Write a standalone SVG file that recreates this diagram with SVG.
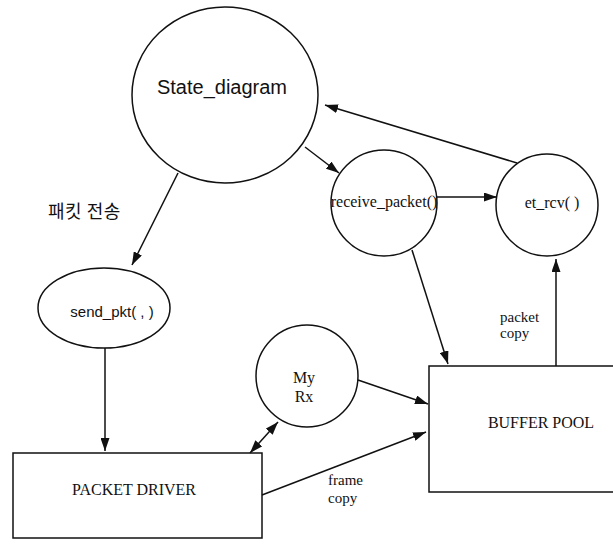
<svg xmlns="http://www.w3.org/2000/svg" width="613" height="550" viewBox="0 0 613 550">
<style>
.shape{fill:none;stroke:#111;stroke-width:1.5}
.edge{fill:none;stroke:#111;stroke-width:1.5}
.sans{font-family:"Liberation Sans",Arial,sans-serif;fill:#111}
.serif{font-family:"Liberation Serif","Times New Roman",serif;fill:#111;font-size:16px}
.small{font-size:15px}
.kr{font-family:"Noto Sans CJK KR","Noto Sans",sans-serif;fill:#111;font-size:18px;letter-spacing:0.5px}
</style>
<defs>
<marker id="ah" markerUnits="userSpaceOnUse" markerWidth="13" markerHeight="9" refX="13" refY="4.5" orient="auto-start-reverse">
<path d="M0,0 L13,4.5 L0,9 z" fill="#111"/>
</marker>
</defs>
<rect width="613" height="550" fill="#fff"/>
<g id="state_diagram">
<ellipse class="shape" cx="225" cy="95" rx="93" ry="88"/>
<text class="sans" x="222" y="94" font-size="20" text-anchor="middle">State_diagram</text>
</g>
<g id="receive_packet">
<circle class="shape" cx="384" cy="203" r="53"/>
<text class="serif" x="384" y="207" text-anchor="middle">receive_packet()</text>
</g>
<g id="et_rcv">
<circle class="shape" cx="547" cy="205" r="51"/>
<text class="serif" x="552" y="208" text-anchor="middle">et_rcv( )</text>
</g>
<g id="send_pkt">
<ellipse class="shape" cx="104" cy="308" rx="66" ry="40"/>
<text class="sans" x="112" y="317" font-size="15" text-anchor="middle">send_pkt( , )</text>
</g>
<g id="my_rx">
<circle class="shape" cx="307" cy="376" r="51"/>
<text class="serif" x="304" y="383" text-anchor="middle">My</text>
<text class="serif" x="304" y="402" text-anchor="middle">Rx</text>
</g>
<g id="packet_driver">
<rect class="shape" x="13" y="453" width="249" height="85"/>
<text class="serif" x="134" y="495" text-anchor="middle">PACKET DRIVER</text>
</g>
<g id="buffer_pool">
<rect class="shape" x="429" y="366" width="190" height="126"/>
<text class="serif" x="541" y="428" text-anchor="middle">BUFFER POOL</text>
</g>
<g id="connectors">
<path class="edge" d="M178,173 L132,265" marker-end="url(#ah)"/>
<path class="edge" d="M305,147 L339,173" marker-end="url(#ah)"/>
<path class="edge" d="M517,163 L325,105" marker-end="url(#ah)"/>
<path class="edge" d="M437,197 L497,197" marker-end="url(#ah)"/>
<path class="edge" d="M412,250 L448,364" marker-end="url(#ah)"/>
<path class="edge" d="M556,366 L556,259" marker-end="url(#ah)"/>
<path class="edge" d="M105,348 L105,451" marker-end="url(#ah)"/>
<path class="edge" d="M250,453 L278,422" marker-start="url(#ah)" marker-end="url(#ah)"/>
<path class="edge" d="M358,380 L428,404" marker-end="url(#ah)"/>
<path class="edge" d="M262,495 L426,432" marker-end="url(#ah)"/>
</g>
<g id="labels">
<text class="kr" x="48" y="218">패킷 전송</text>
<text class="serif small" x="500" y="322">packet</text>
<text class="serif small" x="500" y="338">copy</text>
<text class="serif small" x="328" y="485">frame</text>
<text class="serif small" x="328" y="503">copy</text>
</g>
</svg>
